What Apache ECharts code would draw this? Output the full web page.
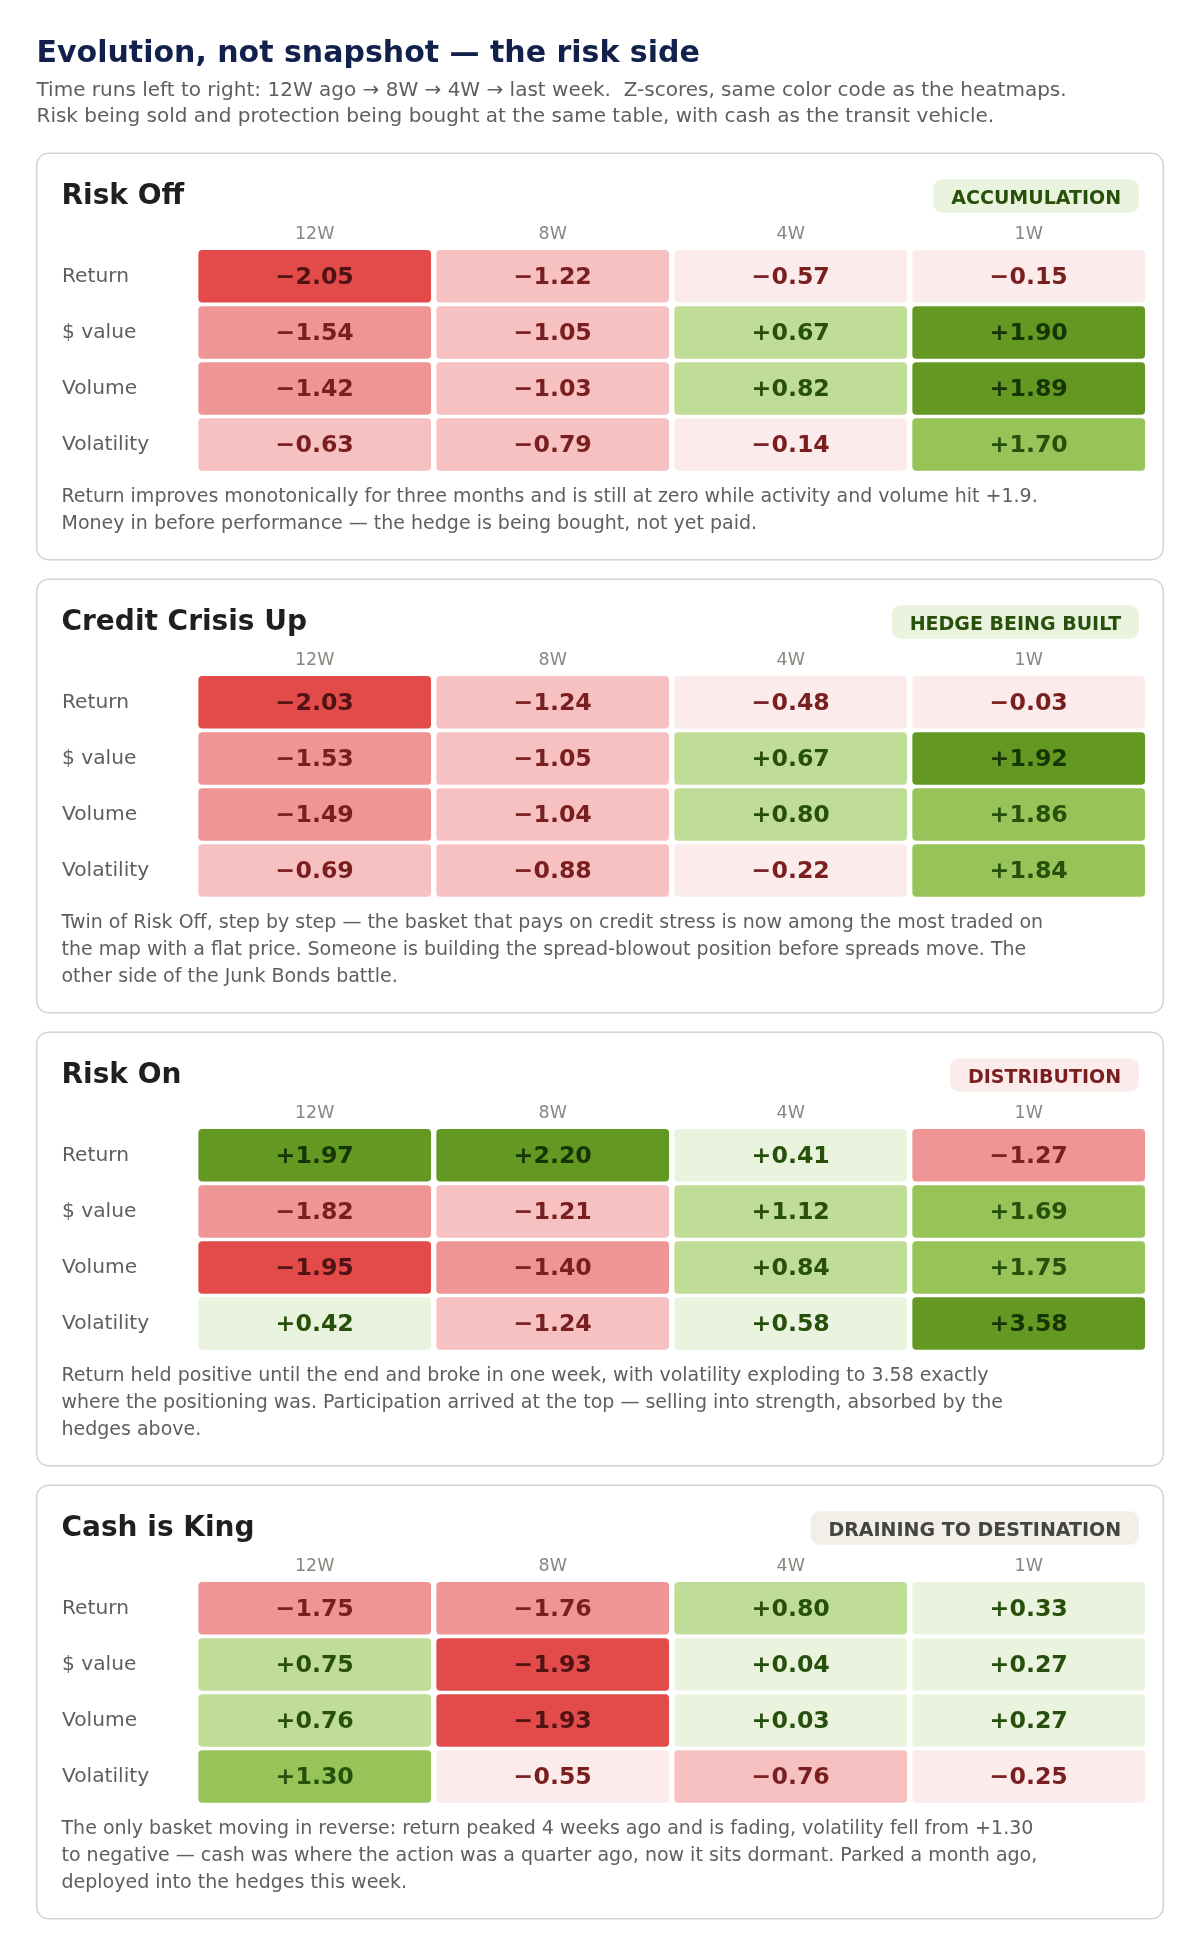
<!DOCTYPE html>
<html>
<head>
<meta charset="utf-8">
<script src="https://cdn.jsdelivr.net/npm/echarts@6/dist/echarts.min.js"></script>
<style>
  html, body { margin: 0; padding: 0; background: #fff; }
  #chart { width: 1200px; height: 1955px; }
</style>
</head>
<body>
<div id="chart"></div>
<script>
const weeks = ['12W', '8W', '4W', '1W'];
const metrics = ['Return', '$ value', 'Volume', 'Volatility'];

// rows = metrics, columns = weeks
const riskOff = [
  [-2.05, -1.22, -0.57, -0.15],
  [-1.54, -1.05, 0.67, 1.90],
  [-1.42, -1.03, 0.82, 1.89],
  [-0.63, -0.79, -0.14, 1.70]
];
const creditCrisisUp = [
  [-2.03, -1.24, -0.48, -0.03],
  [-1.53, -1.05, 0.67, 1.92],
  [-1.49, -1.04, 0.80, 1.86],
  [-0.69, -0.88, -0.22, 1.84]
];
const riskOn = [
  [1.97, 2.20, 0.41, -1.27],
  [-1.82, -1.21, 1.12, 1.69],
  [-1.95, -1.40, 0.84, 1.75],
  [0.42, -1.24, 0.58, 3.58]
];
const cashIsKing = [
  [-1.75, -1.76, 0.80, 0.33],
  [0.75, -1.93, 0.04, 0.27],
  [0.76, -1.93, 0.03, 0.27],
  [1.30, -0.55, -0.76, -0.25]
];

const panelNames = ['Risk Off', 'Credit Crisis Up', 'Risk On', 'Cash is King'];
const panelValues = [riskOff, creditCrisisUp, riskOn, cashIsKing];
const badgeTexts = ['ACCUMULATION', 'HEDGE BEING BUILT', 'DISTRIBUTION', 'DRAINING TO DESTINATION'];
const badgeKinds = ['pos', 'pos', 'neg', 'neutral'];
const notes = [
  ['Return improves monotonically for three months and is still at zero while activity and volume hit +1.9.',
   'Money in before performance — the hedge is being bought, not yet paid.'],
  ['Twin of Risk Off, step by step — the basket that pays on credit stress is now among the most traded on',
   'the map with a flat price. Someone is building the spread-blowout position before spreads move. The',
   'other side of the Junk Bonds battle.'],
  ['Return held positive until the end and broke in one week, with volatility exploding to 3.58 exactly',
   'where the positioning was. Participation arrived at the top — selling into strength, absorbed by the',
   'hedges above.'],
  ['The only basket moving in reverse: return peaked 4 weeks ago and is fading, volatility fell from +1.30',
   'to negative — cash was where the action was a quarter ago, now it sits dormant. Parked a month ago,',
   'deployed into the hedges this week.']
];

// colour bands for z-scores
const bandEdges = [-1.875, -1.25, -0.625, 0, 0.625, 1.25, 1.875];
const bandFills = ['#E24B4A', '#F09595', '#F7C1C1', '#FCEBEB', '#EAF3DE', '#C0DD97', '#97C459', '#639922'];
const bandText = ['#501313', '#791F1F', '#791F1F', '#791F1F', '#27500A', '#27500A', '#27500A', '#173404'];
const badgeStyles = {
  pos: { bg: '#EAF3DE', fg: '#27500A' },
  neg: { bg: '#FCEBEB', fg: '#791F1F' },
  neutral: { bg: '#F1EFE8', fg: '#444441' }
};

const FONT = '"DejaVu Sans", sans-serif';
const BADGE_FONT = 'bold 19px ' + FONT;

function band(v) {
  let i = 0;
  while (i < bandEdges.length && v >= bandEdges[i]) i++;
  return i;
}
function fmt(v) {
  return (v < 0 ? '\u2212' : '+') + Math.abs(v).toFixed(2);
}
const measureCtx = document.createElement('canvas').getContext('2d');
function textWidth(text, font) {
  measureCtx.font = font;
  return measureCtx.measureText(text).width;
}

const panelX = 36.7, panelW = 1126.6;
const gridLeft = 195.7, gridW = 952, gridH = 224.4;
const badgeRight = 1139, badgePad = 17.9;

const grids = [], xAxes = [], yAxes = [], series = [];
const graphics = [
  { type: 'text', x: 36.5, y: 53.8, z: 5,
    style: { text: 'Evolution, not snapshot — the risk side', font: 'bold 30px ' + FONT,
      fill: '#12204C', verticalAlign: 'middle' } },
  { type: 'text', x: 36.5, y: 77.5, z: 5,
    style: { text: 'Time runs left to right: 12W ago \u2192 8W \u2192 4W \u2192 last week.  Z-scores, same color code as the heatmaps.\nRisk being sold and protection being bought at the same table, with cash as the transit vehicle.',
      font: '20px ' + FONT, fill: '#5F5E5A', lineHeight: 26, verticalAlign: 'top' } }
];

let panelTop = 153.3;
panelNames.forEach((name, p) => {
  const nLines = notes[p].length;
  const h = 352.5 + 27 * nLines;
  const bs = badgeStyles[badgeKinds[p]];
  const bw = textWidth(badgeTexts[p], BADGE_FONT) + 2 * badgePad;

  graphics.push(
    { type: 'rect', z: 0, shape: { x: panelX, y: panelTop, width: panelW, height: h, r: 12 },
      style: { fill: '#fff', stroke: '#D6D3CB', lineWidth: 1.5 } },
    { type: 'text', z: 5, x: 61.5, y: panelTop + 43.7,
      style: { text: name, font: 'bold 28px ' + FONT, fill: '#1F1F1F', verticalAlign: 'middle' } },
    { type: 'rect', z: 4, shape: { x: badgeRight - bw, y: panelTop + 26, width: bw, height: 33.4, r: 9 },
      style: { fill: bs.bg } },
    { type: 'text', z: 5, x: badgeRight - bw / 2, y: panelTop + 45.4,
      style: { text: badgeTexts[p], font: BADGE_FONT, fill: bs.fg, align: 'center', verticalAlign: 'middle' } },
    { type: 'text', z: 5, x: 61.5, y: panelTop + 330.7,
      style: { text: notes[p].join('\n'), font: '19px ' + FONT, fill: '#5F5E5A',
        lineHeight: 27, verticalAlign: 'top' } }
  );

  const gTop = panelTop + 94.95;
  grids.push({ left: gridLeft, top: gTop, width: gridW, height: gridH });
  xAxes.push({
    type: 'category', gridIndex: p, data: weeks, position: 'top',
    axisLine: { show: false }, axisTick: { show: false }, splitLine: { show: false },
    axisLabel: { margin: 13.5, verticalAlign: 'middle', fontSize: 17.4, color: '#888780', fontFamily: FONT }
  });
  yAxes.push({
    type: 'category', gridIndex: p, data: metrics, inverse: true,
    axisLine: { show: false }, axisTick: { show: false }, splitLine: { show: false },
    axisLabel: { align: 'left', margin: gridLeft - 62, padding: [6, 0, 0, 0], fontSize: 20.2, color: '#5F5E5A', fontFamily: FONT }
  });

  const data = [];
  panelValues[p].forEach((row, r) => row.forEach((v, c) => data.push([c, r, v])));
  series.push({
    type: 'custom',
    xAxisIndex: p,
    yAxisIndex: p,
    data: data,
    renderItem(params, api) {
      const v = api.value(2);
      const pt = api.coord([api.value(0), api.value(1)]);
      const sz = api.size([1, 1]);
      const w = sz[0] - 5.3, hh = sz[1] - 3.6;
      const b = band(v);
      return {
        type: 'rect',
        shape: { x: pt[0] - w / 2, y: pt[1] - hh / 2, width: w, height: hh, r: 4 },
        style: { fill: bandFills[b] },
        textContent: {
          style: { text: fmt(v), fill: bandText[b], font: 'bold 23.7px ' + FONT }
        },
        textConfig: { position: 'inside', offset: [0, 1.5] }
      };
    }
  });

  panelTop += h + 19.5;
});

const myChart = echarts.init(document.getElementById('chart'), null, { renderer: 'canvas' });
myChart.setOption({
  backgroundColor: '#fff',
  animation: false,
  grid: grids,
  xAxis: xAxes,
  yAxis: yAxes,
  graphic: graphics,
  series: series
});
</script>
</body>
</html>
